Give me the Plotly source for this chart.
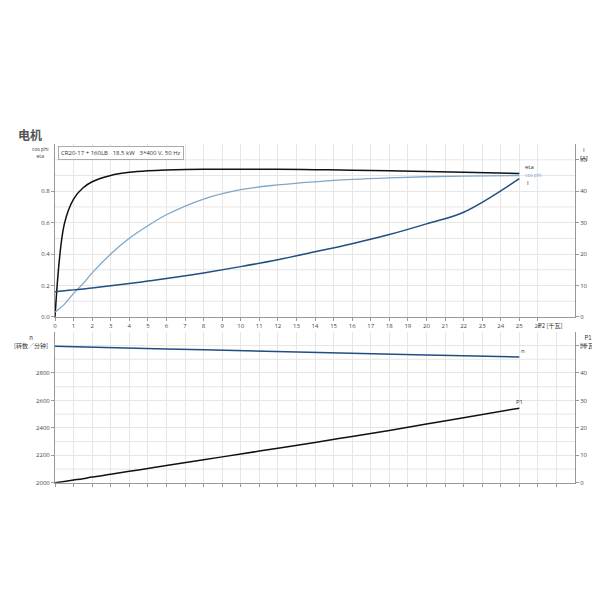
import plotly.graph_objects as go

p2 = [0, 0.5, 1, 1.5, 2, 3, 4, 5, 6, 8, 10, 12, 14, 16, 18, 20, 22, 25]
eta = [0.0, 0.59, 0.75, 0.82, 0.86, 0.90, 0.92, 0.93, 0.935, 0.94, 0.94, 0.94, 0.937, 0.934, 0.93, 0.925, 0.92, 0.913]
cosphi = [0.03, 0.08, 0.15, 0.21, 0.28, 0.40, 0.50, 0.58, 0.65, 0.75, 0.81, 0.84, 0.86, 0.875, 0.885, 0.892, 0.896, 0.9]
current = [8.0, 8.3, 8.6, 8.9, 9.2, 9.9, 10.6, 11.4, 12.2, 14.0, 16.0, 18.2, 20.7, 23.3, 26.2, 29.6, 33.3, 44.0]
speed = [2995, 2993, 2991, 2989, 2988, 2984, 2981, 2978, 2975, 2969, 2962, 2956, 2950, 2944, 2938, 2932, 2926, 2917]
p1 = [0.0, 0.5, 1.0, 1.5, 2.1, 3.1, 4.2, 5.2, 6.3, 8.4, 10.5, 12.6, 14.7, 16.9, 19.1, 21.4, 23.7, 27.2]

fig = go.Figure()
fig.add_trace(go.Scatter(x=p2, y=eta, xaxis='x', yaxis='y', mode='lines', line=dict(color='#111111', width=1.5, shape='spline')))
fig.add_trace(go.Scatter(x=p2, y=cosphi, xaxis='x', yaxis='y', mode='lines', line=dict(color='#7fa7c9', width=1.3, shape='spline')))
fig.add_trace(go.Scatter(x=p2, y=current, xaxis='x', yaxis='y2', mode='lines', line=dict(color='#1f4f82', width=1.5, shape='spline')))
fig.add_trace(go.Scatter(x=p2, y=speed, xaxis='x2', yaxis='y3', mode='lines', line=dict(color='#1f4f82', width=1.5)))
fig.add_trace(go.Scatter(x=p2, y=p1, xaxis='x2', yaxis='y4', mode='lines', line=dict(color='#111111', width=1.5, shape='spline')))

grid = '#e6e6e6'
tf = dict(size=6, color='#444')
common = dict(showgrid=True, gridcolor=grid, showline=True, linecolor='#999', ticks='outside', ticklen=3, tickcolor='#999', tickfont=tf, zeroline=False)
fig.update_layout(
    width=600, height=600, showlegend=False, plot_bgcolor='white', paper_bgcolor='white',
    margin=dict(l=47, r=33, t=0, b=0),
    xaxis=dict(domain=[0, 1], range=[0, 28], tickvals=list(range(27)), anchor='y', **common),
    xaxis2=dict(domain=[0, 1], range=[0, 28], tickvals=list(range(28)), showticklabels=False, matches='x', anchor='y3', **common),
    yaxis=dict(domain=[0.4817, 0.7717], range=[0, 1.1], tickvals=[0, 0.2, 0.4, 0.6, 0.8], ticktext=['0.0', '0.2', '0.4', '0.6', '0.8'], anchor='x', **common),
    yaxis2=dict(domain=[0.4817, 0.7717], range=[0, 55], dtick=10, overlaying='y', side='right', anchor='x', **{**common, 'showgrid': False}),
    yaxis3=dict(domain=[0.2033, 0.4567], range=[2000, 3100], tickvals=[2000, 2200, 2400, 2600, 2800], anchor='x2', **common),
    yaxis4=dict(domain=[0.2033, 0.4567], range=[0, 55], dtick=10, overlaying='y3', side='right', anchor='x2', **{**common, 'showgrid': False}),
)
for v in [0.1, 0.3, 0.5, 0.7, 0.9, 1.0]:
    fig.add_shape(type='line', xref='x', yref='y', x0=0, x1=28, y0=v, y1=v, line=dict(color=grid, width=1), layer='below')
for v in [2100, 2300, 2500, 2700, 2900, 3000]:
    fig.add_shape(type='line', xref='x2', yref='y3', x0=0, x1=28, y0=v, y1=v, line=dict(color=grid, width=1), layer='below')

def ann(x, y, text, xref='paper', yref='paper', **kw):
    d = dict(x=x, y=y, text=text, xref=xref, yref=yref, showarrow=False, font=dict(size=6, color='#333'))
    d.update(kw)
    fig.add_annotation(**d)

ann(-0.075, 0.805, '<b>电机</b>', xanchor='left', font=dict(size=12, color='#555', family='Noto Sans CJK SC'))
ann(0.005, 0.768, 'CR20-17 + 160LB   18.5 kW   3*400 V, 50 Hz', xanchor='left', yanchor='top', bordercolor='#aaa', borderwidth=1, bgcolor='white', borderpad=2)
ann(-0.01, 0.772, 'cos phi<br>eta', xanchor='right', yanchor='top', font=dict(size=5, color='#333'))
ann(1.005, 0.772, 'I<br>[A]', xanchor='left', yanchor='top')
ann(26.7, 0.4817, 'P2 [千瓦]', xref='x', yanchor='top', yshift=-2, font=dict(size=6, color='#333', family='Noto Sans CJK SC'))
ann(25.2, 0.913, 'eta', xref='x', yref='y', xanchor='left', yanchor='bottom')
ann(25.2, 0.9, 'cos phi', xref='x', yref='y', xanchor='left', font=dict(size=5, color='#7fa7c9'))
ann(25.3, 42.5, 'I', xref='x', yref='y2', xanchor='left')
ann(25.0, 2917, 'n', xref='x2', yref='y3', xanchor='left', yanchor='bottom')
ann(25.0, 27.2, 'P1', xref='x2', yref='y4', xanchor='center', yanchor='bottom')
ann(-0.01, 0.458, 'n<br>[转数／分钟]', xanchor='right', yanchor='top', font=dict(size=6, color='#333', family='Noto Sans CJK SC'))
ann(1.005, 0.458, 'P1<br>[千瓦]', xanchor='left', yanchor='top', font=dict(size=6, color='#333', family='Noto Sans CJK SC'))
fig.write_html('out.html')
